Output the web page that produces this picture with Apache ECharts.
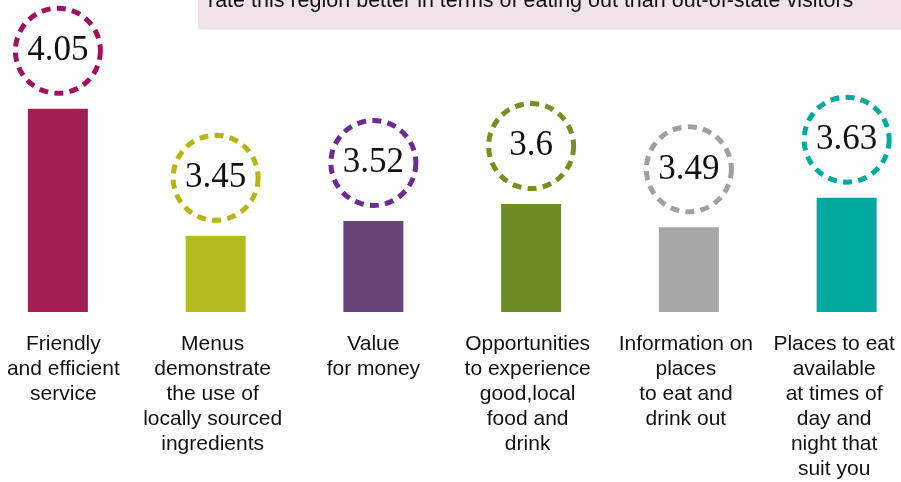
<!DOCTYPE html>
<html>
<head>
<meta charset="utf-8">
<script src="https://cdn.jsdelivr.net/npm/echarts@6/dist/echarts.min.js"></script>
<style>
html,body{margin:0;padding:0;background:#fff;}
#main{width:901px;height:482px;}
</style>
</head>
<body>
<div id="main"></div>
<script>
var categories = [
  "Friendly\nand efficient\nservice",
  "Menus\ndemonstrate\nthe use of\nlocally sourced\ningredients",
  "Value\nfor money",
  "Opportunities\nto experience\ngood,local\nfood and\ndrink",
  "Information on\nplaces\nto eat and\ndrink out",
  "Places to eat\navailable\nat times of\nday and\nnight that\nsuit you"
];
var values = [4.05, 3.45, 3.52, 3.6, 3.49, 3.63];
var barColors = ["#A21F56", "#B3BB1E", "#684478", "#6D8C25", "#A6A6A6", "#00A99D"];
var ringColors = ["#A0125E", "#B7B512", "#6A2C91", "#7B8C22", "#A0A0A0", "#00A99D"];
var headerText = "rate this region better in terms of eating out than out-of-state visitors";

// small label nudges so edge labels stay inside the canvas
var labelPadding = [[0, 0, 0, 11], [0, 6, 0, 0], [0, 0, 0, 0], [0, 7, 0, 0], [0, 6, 0, 0], [0, 25, 0, 0]];

var chart = echarts.init(document.getElementById('main'), null, {renderer: 'canvas'});
var option = {
  backgroundColor: '#ffffff',
  animation: false,
  graphic: [
    {type: 'rect', left: 198, top: 0, shape: {x: 0, y: 0, width: 703, height: 29.5}, style: {fill: '#F2E2E9'}, z: 0},
    {type: 'text', x: 208, y: 1.5, style: {text: headerText, font: '21.5px "Liberation Sans", Arial, sans-serif', fill: '#111', verticalAlign: 'middle', align: 'left'}, z: 1}
  ],
  grid: {left: -21, right: -24.5, top: 13.5, bottom: 170, containLabel: false, outerBoundsMode: 'none'},
  xAxis: {
    type: 'category',
    data: categories.map(function (c, i) { return {value: c, textStyle: {padding: labelPadding[i]}}; }),
    axisLine: {show: false},
    axisTick: {show: false},
    splitLine: {show: false},
    axisLabel: {
      interval: 0,
      margin: 20,
      fontSize: 21,
      lineHeight: 25,
      color: '#111',
      fontFamily: '"Liberation Sans", Arial, sans-serif',
      align: 'center'
    }
  },
  yAxis: {
    type: 'value',
    min: 3.09,
    max: 4.5,
    show: false,
    splitLine: {show: false}
  },
  series: [
    {
      type: 'bar',
      barWidth: 60,
      data: values.map(function (v, i) { return {value: v, itemStyle: {color: barColors[i]}}; }),
      z: 2
    },
    {
      type: 'scatter',
      symbol: 'circle',
      symbolSize: 85,
      symbolOffset: [0, -58],
      data: values.map(function (v, i) {
        return {value: v, itemStyle: {color: '#ffffff', borderColor: ringColors[i], borderWidth: 5, borderType: [9, 6.3], opacity: 1}};
      }),
      label: {
        show: true,
        position: 'inside',
        formatter: function (p) { return String(p.value); },
        fontFamily: '"Liberation Serif", "Times New Roman", serif',
        fontSize: 35,
        color: '#111'
      },
      emphasis: {disabled: true},
      z: 3
    }
  ]
};
chart.setOption(option);
</script>
</body>
</html>
